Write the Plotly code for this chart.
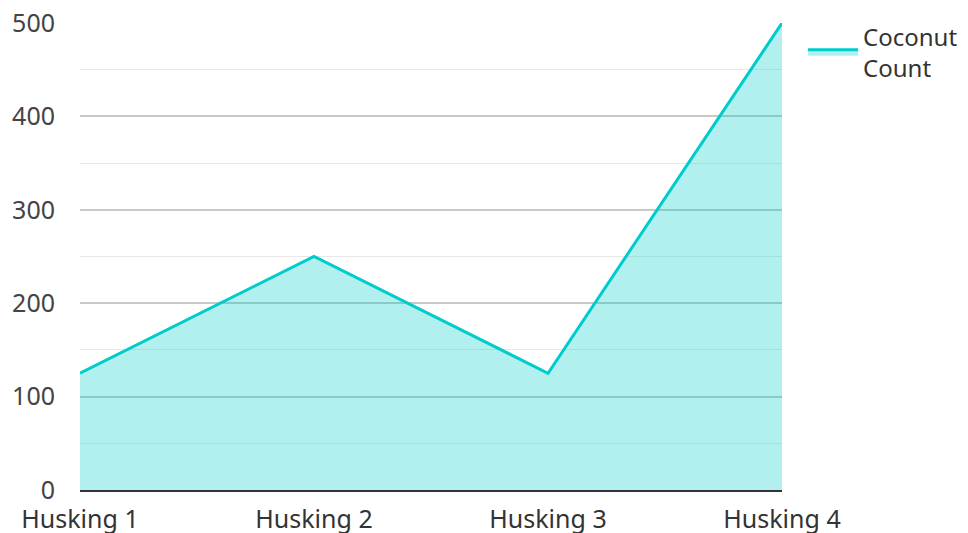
import plotly.graph_objects as go

categories = ["Husking 1", "Husking 2", "Husking 3", "Husking 4"]
coconut_count = [125, 250, 125, 500]
series_name = "Coconut<br>Count"

fig = go.Figure()
fig.add_trace(go.Scatter(
    x=categories, y=coconut_count, name=series_name, mode="lines",
    line=dict(color="#00cccc", width=3),
    fill="tozeroy", fillcolor="rgba(0,204,204,0.3)",
))

# page body has an 8px margin, so the figure is 8px smaller and shifted
fig.update_layout(
    width=960, height=525,
    margin=dict(l=72, r=186, t=15, b=43, autoexpand=False),
    paper_bgcolor="white", plot_bgcolor="white",
    font=dict(family="Noto Sans", size=25, color="#444"),
    showlegend=True,
    legend=dict(x=1.03, y=1.019, xanchor="left", yanchor="top",
                font=dict(size=24, color="#333"), itemwidth=50),
    xaxis=dict(range=[0, 3], showgrid=False, showline=True, linecolor="#333",
               linewidth=2, ticks="outside", ticklen=6, tickcolor="white",
               tickfont=dict(size=25, color="#333"), zeroline=False,
               automargin=False, ticklabeloverflow="allow"),
    yaxis=dict(range=[0, 500], tickvals=[0, 100, 200, 300, 400, 500],
               gridcolor="#c8c8c8", gridwidth=1.5, zeroline=False,
               ticks="outside", ticklen=19, tickcolor="white",
               tickfont=dict(size=25, color="#444"), automargin=False,
               ticklabeloverflow="allow",
               minor=dict(tickvals=[50, 150, 250, 350, 450], showgrid=True,
                          gridcolor="#e8e8e8", gridwidth=1)),
)

fig.write_html("out.html")
